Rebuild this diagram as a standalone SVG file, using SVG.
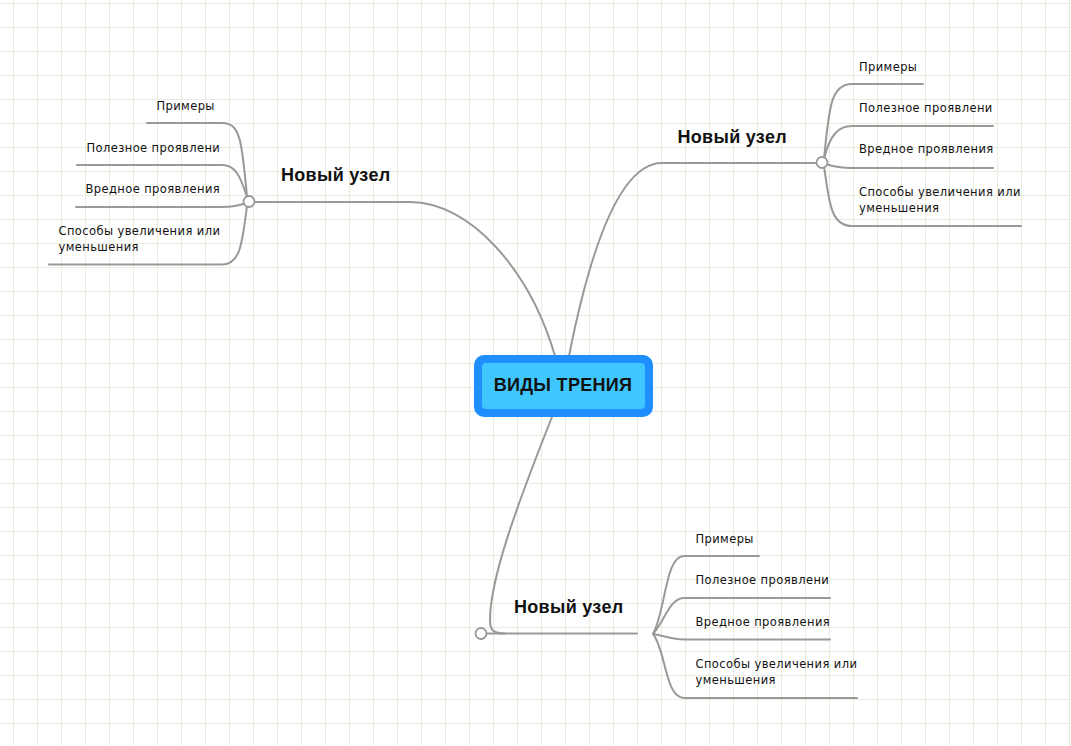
<svg xmlns="http://www.w3.org/2000/svg" width="1071" height="746" viewBox="0 0 1071 746">
<defs>
<pattern id="grid" width="24" height="24" patternUnits="userSpaceOnUse" x="13" y="3">
<rect x="0" y="0" width="1" height="24" fill="#e9ecdf"/>
<rect x="0" y="0" width="24" height="1" fill="#e9ecdf"/>
</pattern>
<style>
.c{fill:none;stroke:#999;stroke-width:2;stroke-linecap:round}
.dot{fill:#fff;stroke:#999;stroke-width:1.8}
.t{font-family:"DejaVu Sans",sans-serif;font-size:11.5px;letter-spacing:0.4px;fill:#111}
.h{font-family:"Liberation Sans",Arial,sans-serif;font-size:18px;font-weight:bold;letter-spacing:0.3px;fill:#111}
</style>
</defs>
<rect width="1071" height="746" fill="#fff"/>
<rect width="1071" height="746" fill="url(#grid)"/>
<g id="connectors">
<path class="c" d="M555 356 C530 270 470 202 410 202 L255 202"/>
<path class="c" d="M569 356 C590 250 620 163 662 163 L816 163"/>
<path class="c" d="M552 417 C515 510 490 580 490 620 C490 631 494 633.5 505 633.5 L637 633.5"/>
<path class="c" d="M487 633.5 L505 633.5"/>
<path class="c" d="M824 159 C829 110 830 84 852 84 L923 84"/>
<path class="c" d="M824 159 C830 135 838 126 852 126 L993 126"/>
<path class="c" d="M825 164 C835 167 842 168 852 168 L993 168"/>
<path class="c" d="M824 166 C829 200 830 226 852 226 L1021 226"/>
<path class="c" d="M247 197 C242 140 240 123 222 123 L147 123"/>
<path class="c" d="M247 197 C240 175 235 165 222 165 L77 165"/>
<path class="c" d="M246 203 C238 206 232 207 222 207 L76 207"/>
<path class="c" d="M247 206 C242 245 240 264.5 222 264.5 L49 264.5"/>
<path class="c" d="M653 634 C666 610 665 556 684 556 L759 556"/>
<path class="c" d="M653 634 C665 620 670 598 684 598 L830 598"/>
<path class="c" d="M653 634 C665 636 672 639.5 684 639.5 L830 639.5"/>
<path class="c" d="M653 634 C666 650 665 698 684 698 L857 698"/>
</g>
<g id="root">
<rect x="474" y="355" width="179" height="62" rx="10" fill="#1f8fff"/>
<rect x="482" y="363" width="163" height="46" rx="4" fill="#40c6ff"/>
<text class="h" x="563" y="391" text-anchor="middle">ВИДЫ ТРЕНИЯ</text>
</g>
<g id="node-left">
<circle class="dot" cx="249" cy="201.5" r="5.5"/>
<text class="h" x="281" y="181">Новый узел</text>
</g>
<g id="node-right">
<circle class="dot" cx="822" cy="162.5" r="5.5"/>
<text class="h" x="677.5" y="142.5">Новый узел</text>
</g>
<g id="node-bottom">
<circle class="dot" cx="481" cy="633.5" r="5.5"/>
<text class="h" x="514" y="613">Новый узел</text>
</g>
<g id="left-children">
<text class="t" x="156.5" y="110">Примеры</text>
<text class="t" x="86.5" y="151.5">Полезное проявлени</text>
<text class="t" x="85.5" y="193">Вредное проявления</text>
<text class="t" x="58.5" y="234.5">Способы увеличения или<tspan x="58.5" dy="16">уменьшения</tspan></text>
</g>
<g id="right-children">
<text class="t" x="859" y="70.5">Примеры</text>
<text class="t" x="859" y="111.5">Полезное проявлени</text>
<text class="t" x="859" y="153">Вредное проявления</text>
<text class="t" x="859" y="195.5">Способы увеличения или<tspan x="859" dy="16">уменьшения</tspan></text>
</g>
<g id="bottom-children">
<text class="t" x="695.5" y="542.5">Примеры</text>
<text class="t" x="695.5" y="584">Полезное проявлени</text>
<text class="t" x="695.5" y="625.5">Вредное проявления</text>
<text class="t" x="695.5" y="668">Способы увеличения или<tspan x="695.5" dy="16">уменьшения</tspan></text>
</g>
</svg>
